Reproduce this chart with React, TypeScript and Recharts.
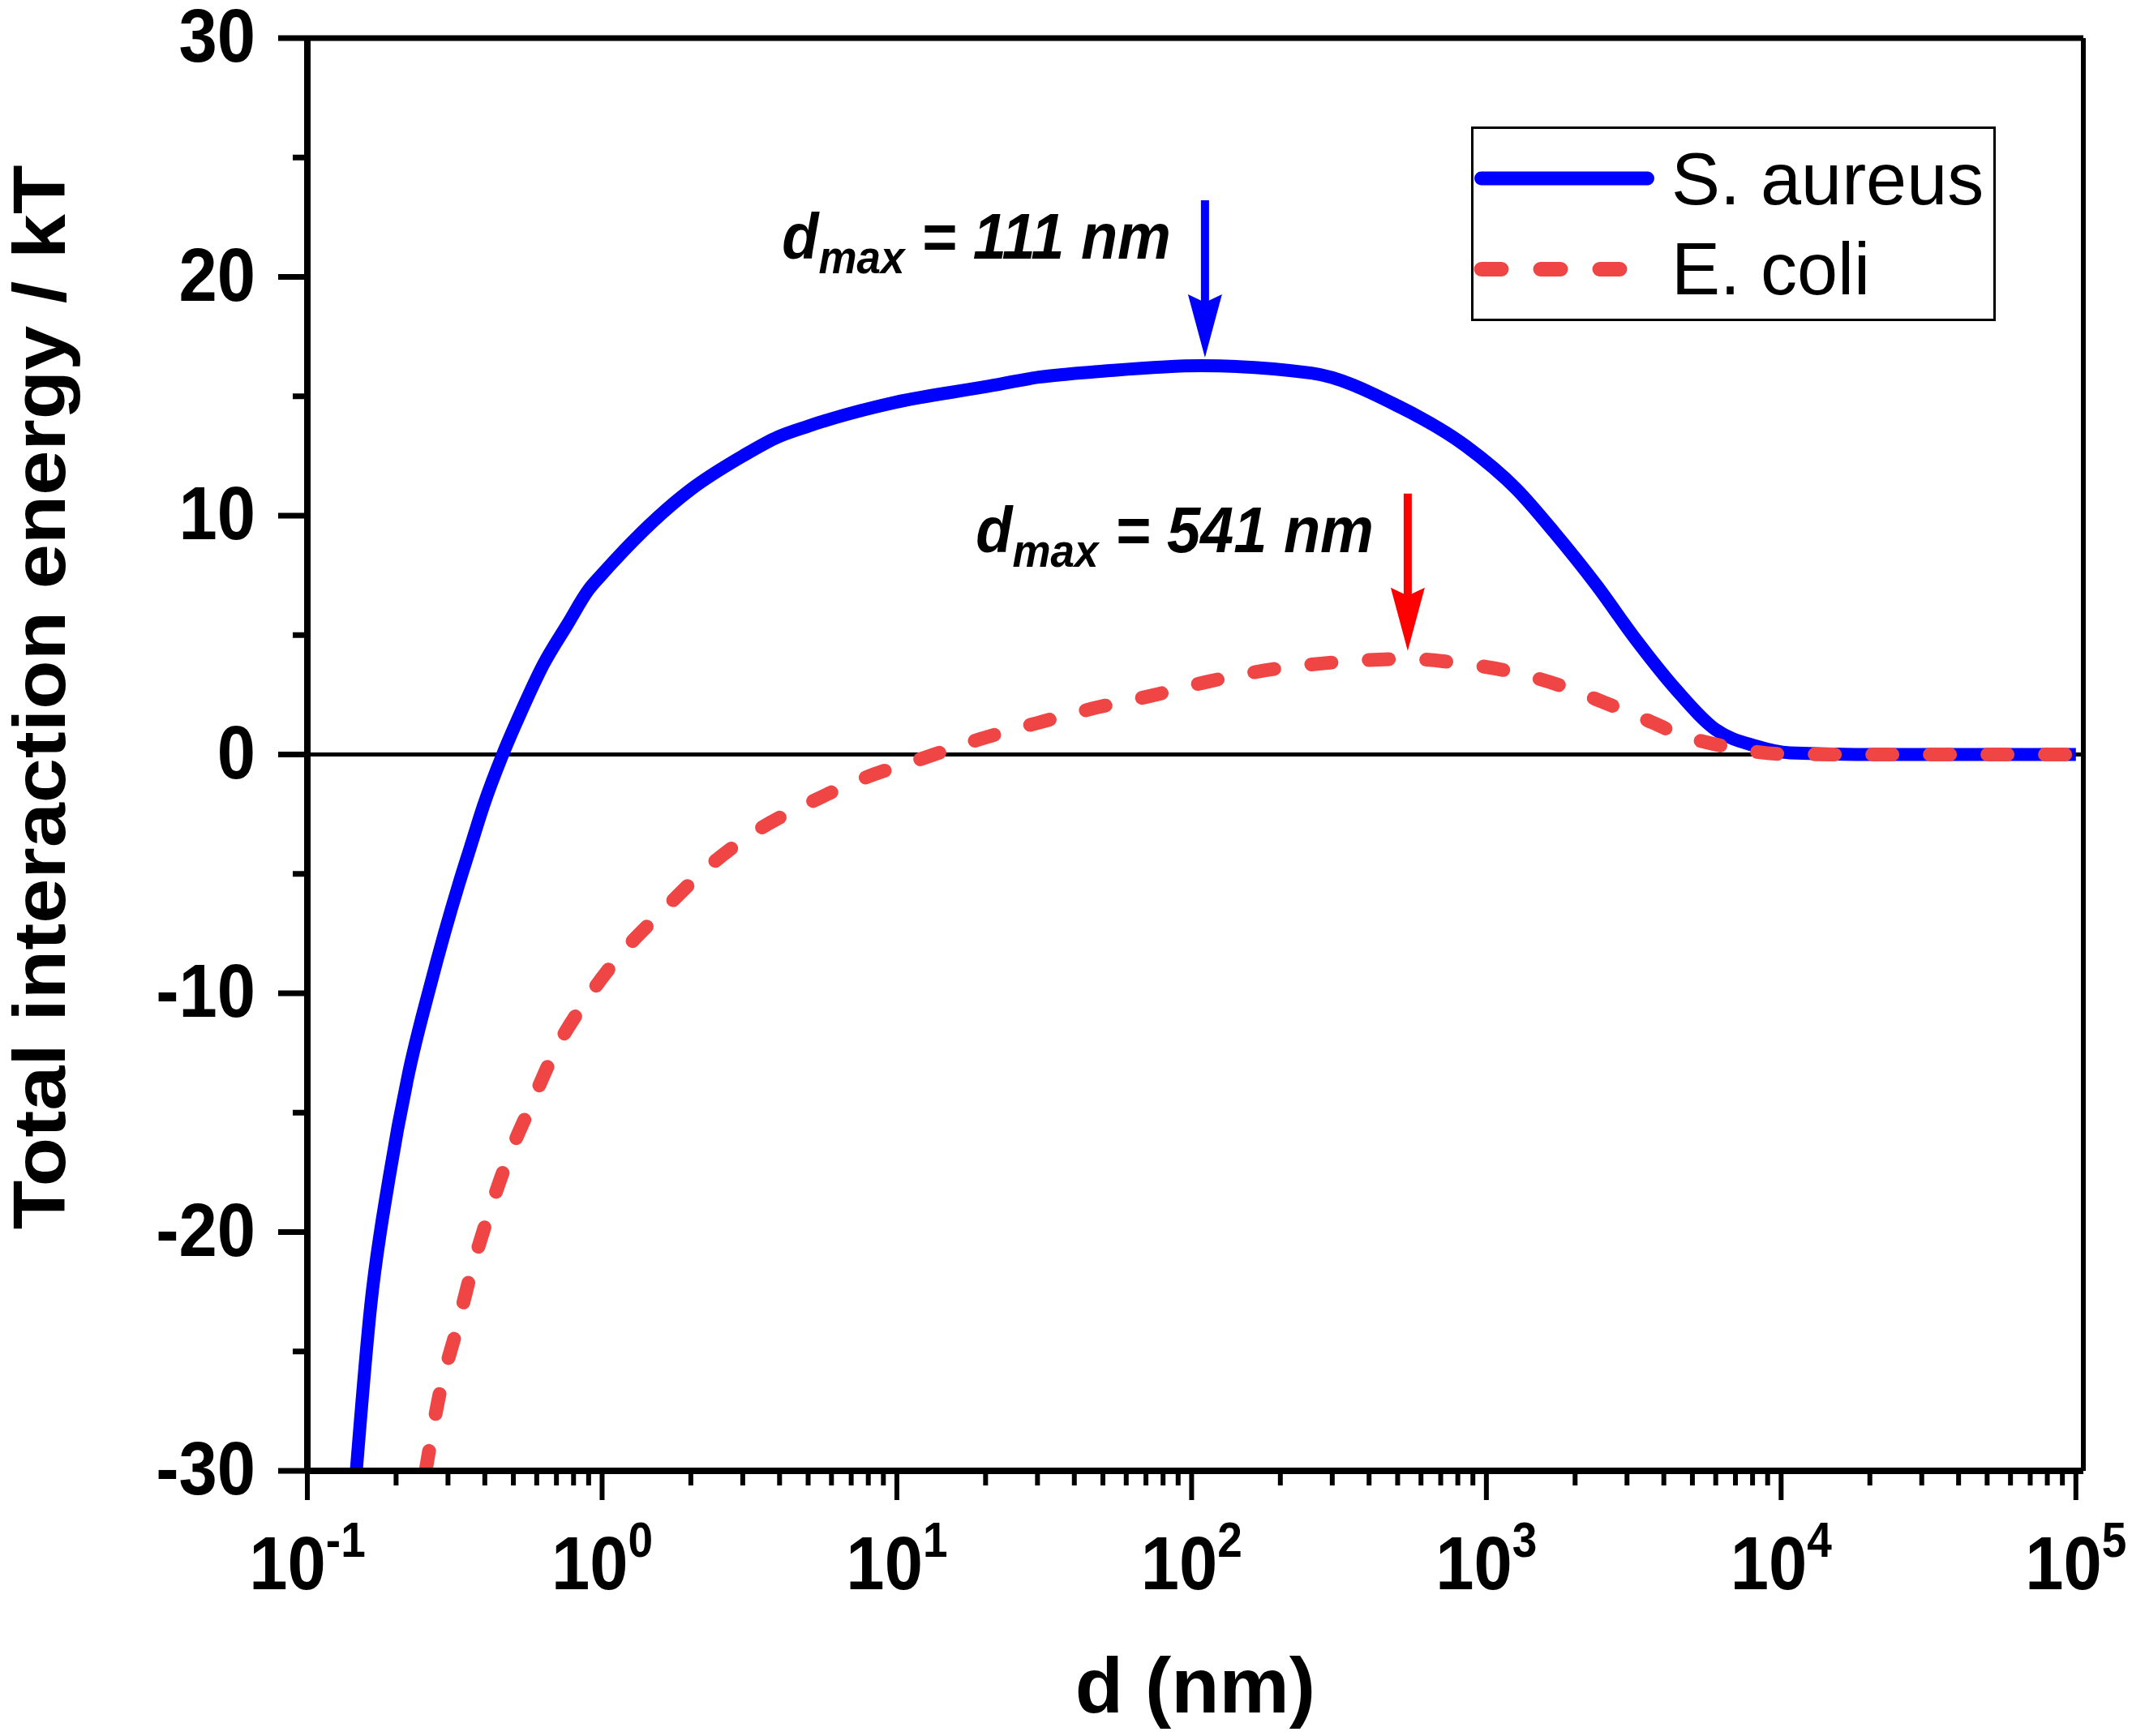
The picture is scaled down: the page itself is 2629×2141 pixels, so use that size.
import { LineChart, Line, XAxis, YAxis, ReferenceLine, ReferenceDot, Legend } from "recharts";

// S. aureus total interaction energy (kT) vs separation d (nm)
const S_AUREUS_D = [
  0.1466, 0.164, 0.189, 0.221, 0.261, 0.327, 0.357, 0.397, 0.46, 0.533, 0.631, 0.763, 0.9, 1, 2, 3, 3.95, 5,
  9.9, 20, 30.3, 50, 107.6, 255, 500, 851, 1268, 1700, 2360, 3220, 4394, 6000, 8180, 10700, 20000, 100000,
];
const S_AUREUS_E = [
  -30, -23.1, -17.8, -13.3, -9.7, -5.4, -3.9, -2.1, 0, 1.83, 3.75, 5.45, 6.9, 7.55, 11.1, 12.5, 13.3, 13.75,
  14.75, 15.4, 15.8, 16.05, 16.28, 15.97, 14.6, 12.92, 11.1, 9.3, 7.1, 4.8, 2.73, 1.04, 0.36, 0.07, 0, 0,
];

// E. coli
const E_COLI_D = [
  0.252, 0.284, 0.319, 0.361, 0.411, 0.48, 0.568, 0.693, 0.881, 1.17, 1.59, 2.27, 3.37, 5.1, 7.7, 12.4, 19.1,
  30.2, 46.7, 72.3, 114.5, 190, 270, 375, 541, 812, 1200, 1770, 2520, 3520, 4600, 6700, 10200, 20000, 100000,
];
const E_COLI_E = [
  -30, -26.5, -24.2, -21.6, -19.3, -16.9, -14.8, -12.4, -10.3, -8.3, -6.6, -4.75, -3.17, -2.0, -1.0, -0.14, 0.64,
  1.33, 1.94, 2.45, 3.06, 3.58, 3.8, 3.94, 4.0, 3.82, 3.48, 2.9, 2.17, 1.43, 0.81, 0.3, 0.02, 0, 0,
];

const SERIES_NAMES = ["S. aureus", "E. coli"];
const SERIES_COLORS = ["#0000ff", "#f04545"];
const ARROW_COLORS = ["#0000ff", "#ff0000"];
const DMAX = [111, 541];
const DMAX_ENERGY = [16.28, 4.0];

const X_MAJOR = [0.1, 1, 10, 100, 1000, 10000, 100000];
const X_EXPONENTS = ["-1", "0", "1", "2", "3", "4", "5"];
const X_MINOR_MULTS = [2, 3, 4, 5, 6, 7, 8, 9];
const Y_MAJOR = [-30, -20, -10, 0, 10, 20, 30];
const Y_MINOR = [-25, -15, -5, 5, 15, 25];

const X_TITLE = "d (nm)";
const Y_TITLE = "Total interaction energy / kT";

const W = 2629;
const H = 2141;
const PLOT_LEFT = 379;
const PLOT_TOP = 47;
const PLOT_RIGHT = 2569;
const PLOT_BOTTOM = 1814;
const X_MAX = 106000;
const FONT = '"Liberation Sans", Arial, Helvetica, sans-serif';
const SY = 1.1;

const sAureus = S_AUREUS_D.map((d, i) => ({ d, e: S_AUREUS_E[i] }));
const eColi = E_COLI_D.map((d, i) => ({ d, e: E_COLI_E[i] }));
const xTicks = [
  ...X_MAJOR,
  ...X_MAJOR.slice(0, -1).flatMap((m) => X_MINOR_MULTS.map((k) => k * m)),
].sort((a, b) => a - b);
const yTicks = [...Y_MAJOR, ...Y_MINOR].sort((a, b) => a - b);

function XTick(props: any) {
  const { x, payload } = props;
  const idx = X_MAJOR.indexOf(payload.value);
  const major = idx >= 0;
  return (
    <g>
      <line x1={x} x2={x} y1={PLOT_BOTTOM} y2={PLOT_BOTTOM + (major ? 36 : 18)} stroke="#000" strokeWidth={6} />
      {major && (
        <g transform={`translate(${x},${PLOT_BOTTOM + 146}) scale(1,${SY})`}>
          <text textAnchor="middle" fontSize={85} fontWeight="bold" fontFamily={FONT} fill="#000">
            10
            <tspan fontSize={55} dy={-36}>
              {X_EXPONENTS[idx]}
            </tspan>
          </text>
        </g>
      )}
    </g>
  );
}

function YTick(props: any) {
  const { y, payload } = props;
  const major = Y_MAJOR.includes(payload.value);
  return (
    <g>
      <line x1={PLOT_LEFT} x2={PLOT_LEFT - (major ? 36 : 18)} y1={y} y2={y} stroke="#000" strokeWidth={7} />
      {major && (
        <g transform={`translate(315,${y + 29}) scale(1,${SY})`}>
          <text textAnchor="end" fontSize={85} fontWeight="bold" fontFamily={FONT} fill="#000">
            {payload.value}
          </text>
        </g>
      )}
    </g>
  );
}

function XTitle() {
  return (
    <text x={(PLOT_LEFT + PLOT_RIGHT) / 2} y={2112} textAnchor="middle" fontSize={97} fontWeight="bold" fontFamily={FONT} fill="#000">
      {X_TITLE}
    </text>
  );
}

function YTitle() {
  return (
    <g transform={`translate(80,860) scale(1,${SY}) rotate(-90)`}>
      <text textAnchor="middle" fontSize={90} fontWeight="bold" fontFamily={FONT} fill="#000">
        {Y_TITLE}
      </text>
    </g>
  );
}

function DmaxArrow(props: any) {
  const { cx, cy, color, value } = props;
  const tip = cy - 10;
  return (
    <g>
      <line x1={cx} x2={cx} y1={tip - 194} y2={tip - 60} stroke={color} strokeWidth={10} />
      <polygon
        points={`${cx},${tip} ${cx - 21},${tip - 78} ${cx},${tip - 68} ${cx + 21},${tip - 78}`}
        fill={color}
      />
      <g transform={`translate(${cx - 42},${tip - 122}) scale(1,1.07)`}>
        <text textAnchor="end" fontSize={74} fontWeight="bold" fontStyle="italic" fontFamily={FONT} fill="#000">
          d
          <tspan fontSize={53} dy={17}>
            max
          </tspan>
          <tspan dy={-17}>{` = ${value} nm`}</tspan>
        </text>
      </g>
    </g>
  );
}

function LegendBox() {
  return (
    <svg width={647} height={240} style={{ display: "block" }}>
      <rect x={1.5} y={1.5} width={644} height={237} fill="#fff" stroke="#000" strokeWidth={3} />
      <line x1={12.5} x2={217.5} y1={64} y2={64} stroke={SERIES_COLORS[0]} strokeWidth={17} strokeLinecap="round" />
      <line
        x1={12.5}
        x2={185}
        y1={176}
        y2={176}
        stroke={SERIES_COLORS[1]}
        strokeWidth={18}
        strokeDasharray="25 48"
        strokeLinecap="round"
      />
      <text x={247} y={96} fontSize={90} fontFamily={FONT} fill="#000">
        {SERIES_NAMES[0]}
      </text>
      <text x={247} y={207} fontSize={90} fontFamily={FONT} fill="#000">
        {SERIES_NAMES[1]}
      </text>
    </svg>
  );
}

export default function App() {
  return (
    <div style={{ width: W, height: H, background: "#fff" }}>
      <style>{"body{margin:0;overflow:hidden;background:#fff}"}</style>
      <LineChart
        width={W}
        height={H}
        margin={{ top: PLOT_TOP, right: W - PLOT_RIGHT, bottom: 0, left: 0 }}
      >
        <XAxis
          dataKey="d"
          type="number"
          scale="log"
          domain={[0.1, X_MAX]}
          allowDataOverflow
          ticks={xTicks}
          interval={0}
          height={H - PLOT_BOTTOM}
          axisLine={{ stroke: "#000", strokeWidth: 8 }}
          tickLine={false}
          tick={(p: any) => <XTick {...p} />}
          label={{ content: XTitle }}
        />
        <YAxis
          type="number"
          domain={[-30, 30]}
          allowDataOverflow
          ticks={yTicks}
          interval={0}
          width={PLOT_LEFT}
          axisLine={{ stroke: "#000", strokeWidth: 8 }}
          tickLine={false}
          tick={(p: any) => <YTick {...p} />}
          label={{ content: YTitle }}
        />
        <ReferenceLine y={30} stroke="#000" strokeWidth={7} ifOverflow="visible" />
        <ReferenceLine x={X_MAX} stroke="#000" strokeWidth={6} ifOverflow="visible" />
        <ReferenceLine y={0} stroke="#000" strokeWidth={5} />
        <Line
          data={sAureus}
          dataKey="e"
          name={SERIES_NAMES[0]}
          type="monotone"
          stroke={SERIES_COLORS[0]}
          strokeWidth={16}
          strokeLinejoin="round"
          dot={false}
          isAnimationActive={false}
        />
        <Line
          data={eColi}
          dataKey="e"
          name={SERIES_NAMES[1]}
          type="monotone"
          stroke={SERIES_COLORS[1]}
          strokeWidth={17}
          strokeDasharray="25 46"
          strokeLinecap="round"
          strokeLinejoin="round"
          dot={false}
          isAnimationActive={false}
        />
        {DMAX.map((d, i) => (
          <ReferenceDot
            key={d}
            x={d}
            y={DMAX_ENERGY[i]}
            r={0}
            shape={(p: any) => <DmaxArrow cx={p.cx} cy={p.cy} color={ARROW_COLORS[i]} value={d} />}
          />
        ))}
        <Legend
          layout="horizontal"
          verticalAlign="middle"
          align="center"
          wrapperStyle={{ left: 1814, top: 156, width: 647, height: 240 }}
          content={() => <LegendBox />}
        />
      </LineChart>
    </div>
  );
}
